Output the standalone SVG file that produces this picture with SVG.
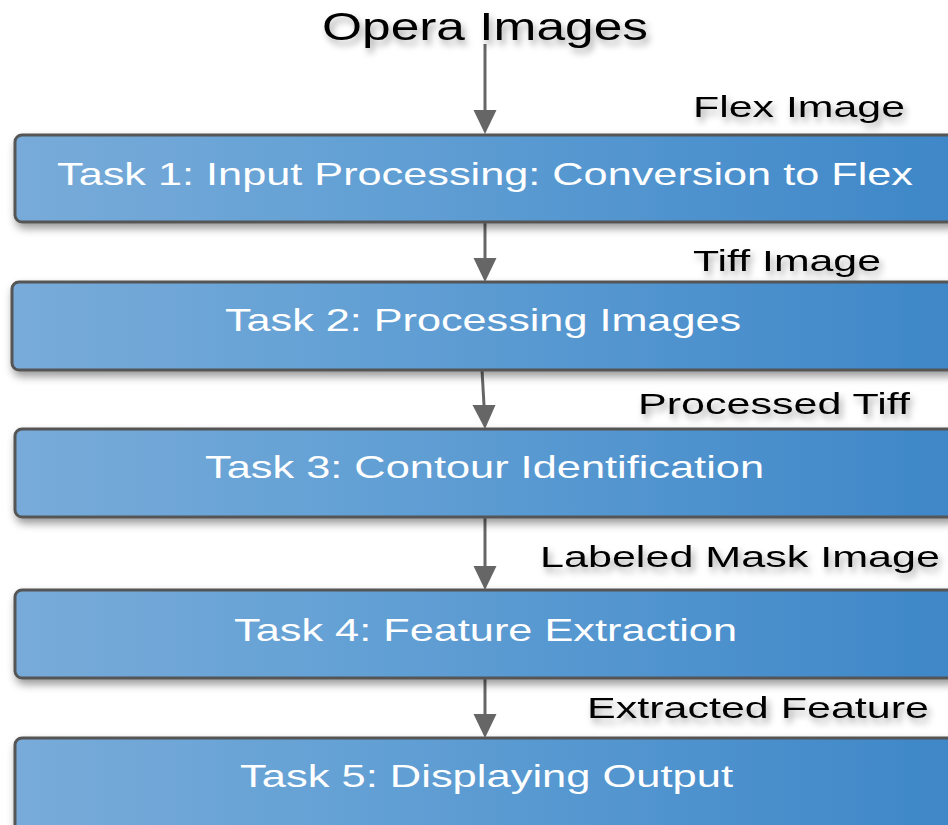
<svg xmlns="http://www.w3.org/2000/svg" width="948" height="825" viewBox="0 0 948 825">
<defs>
<linearGradient id="boxGrad" x1="0" y1="0" x2="1" y2="0">
<stop offset="0" stop-color="#78abd9"/>
<stop offset="0.35" stop-color="#64a1d5"/>
<stop offset="1" stop-color="#3e87c8"/>
</linearGradient>
<filter id="boxShadow" x="-5%" y="-20%" width="115%" height="150%">
<feDropShadow dx="2" dy="5" stdDeviation="4" flood-color="#000" flood-opacity="0.4"/>
</filter>
<filter id="txtShadow" x="-10%" y="-40%" width="125%" height="190%">
<feDropShadow dx="3" dy="5" stdDeviation="3.5" flood-color="#000" flood-opacity="0.35"/>
</filter>
<marker id="arrow" markerWidth="23" markerHeight="24" refX="11.5" refY="24" orient="auto-start-reverse" markerUnits="userSpaceOnUse" viewBox="0 0 23 24">
<path d="M0,0 L23,0 L11.5,24 Z" fill="#666"/>
</marker>
</defs>
<style>
.box{fill:url(#boxGrad);stroke:#555;stroke-width:3;filter:url(#boxShadow)}
.btxt{font-family:"Liberation Sans",Arial,sans-serif;font-size:32px;fill:#fff}
.lbl{font-family:"Liberation Sans",Arial,sans-serif;font-size:30px;fill:#000;filter:url(#txtShadow)}
.conn{stroke:#666;stroke-width:3;fill:none}
</style>
<rect width="948" height="825" fill="#fff"/>
<g id="connectors">
<line class="conn" x1="485" y1="44" x2="485" y2="110"/>
<path d="M473.5,110 L496.5,110 L485,134 Z" fill="#666"/>
<line class="conn" x1="485" y1="222" x2="485" y2="258"/>
<path d="M473.5,258 L496.5,258 L485,282 Z" fill="#666"/>
<line class="conn" x1="482" y1="370" x2="484" y2="405"/>
<path d="M472.5,405 L495.5,405 L485,429 Z" fill="#666"/>
<line class="conn" x1="485" y1="517" x2="485" y2="566"/>
<path d="M473.5,566 L496.5,566 L485,590 Z" fill="#666"/>
<line class="conn" x1="485" y1="678" x2="485" y2="714"/>
<path d="M473.5,714 L496.5,714 L485,738 Z" fill="#666"/>
</g>
<g id="labels">
<text class="lbl" x="322" y="40" font-size="38" style="font-size:38px" textLength="326" lengthAdjust="spacingAndGlyphs">Opera Images</text>
<text class="lbl" x="693" y="117" textLength="212" lengthAdjust="spacingAndGlyphs">Flex Image</text>
<text class="lbl" x="693" y="271" textLength="188" lengthAdjust="spacingAndGlyphs">Tiff Image</text>
<text class="lbl" x="638" y="414" textLength="272" lengthAdjust="spacingAndGlyphs">Processed Tiff</text>
<text class="lbl" x="540" y="567" textLength="400" lengthAdjust="spacingAndGlyphs">Labeled Mask Image</text>
<text class="lbl" x="587" y="718" textLength="342" lengthAdjust="spacingAndGlyphs">Extracted Feature</text>
</g>
<g id="task1">
<rect class="box" x="15" y="135" width="940" height="87" rx="7"/>
<text class="btxt" x="57" y="185" textLength="856" lengthAdjust="spacingAndGlyphs">Task 1: Input Processing: Conversion to Flex</text>
</g>
<g id="task2">
<rect class="box" x="12" y="282" width="943" height="88" rx="7"/>
<text class="btxt" x="225" y="331" textLength="516" lengthAdjust="spacingAndGlyphs">Task 2: Processing Images</text>
</g>
<g id="task3">
<rect class="box" x="15" y="429" width="940" height="88" rx="7"/>
<text class="btxt" x="205" y="478" textLength="559" lengthAdjust="spacingAndGlyphs">Task 3: Contour Identification</text>
</g>
<g id="task4">
<rect class="box" x="15" y="590" width="940" height="88" rx="7"/>
<text class="btxt" x="234" y="641" textLength="503" lengthAdjust="spacingAndGlyphs">Task 4: Feature Extraction</text>
</g>
<g id="task5">
<rect class="box" x="15" y="738" width="940" height="95" rx="7"/>
<text class="btxt" x="240" y="787" textLength="493" lengthAdjust="spacingAndGlyphs">Task 5: Displaying Output</text>
</g>
</svg>
